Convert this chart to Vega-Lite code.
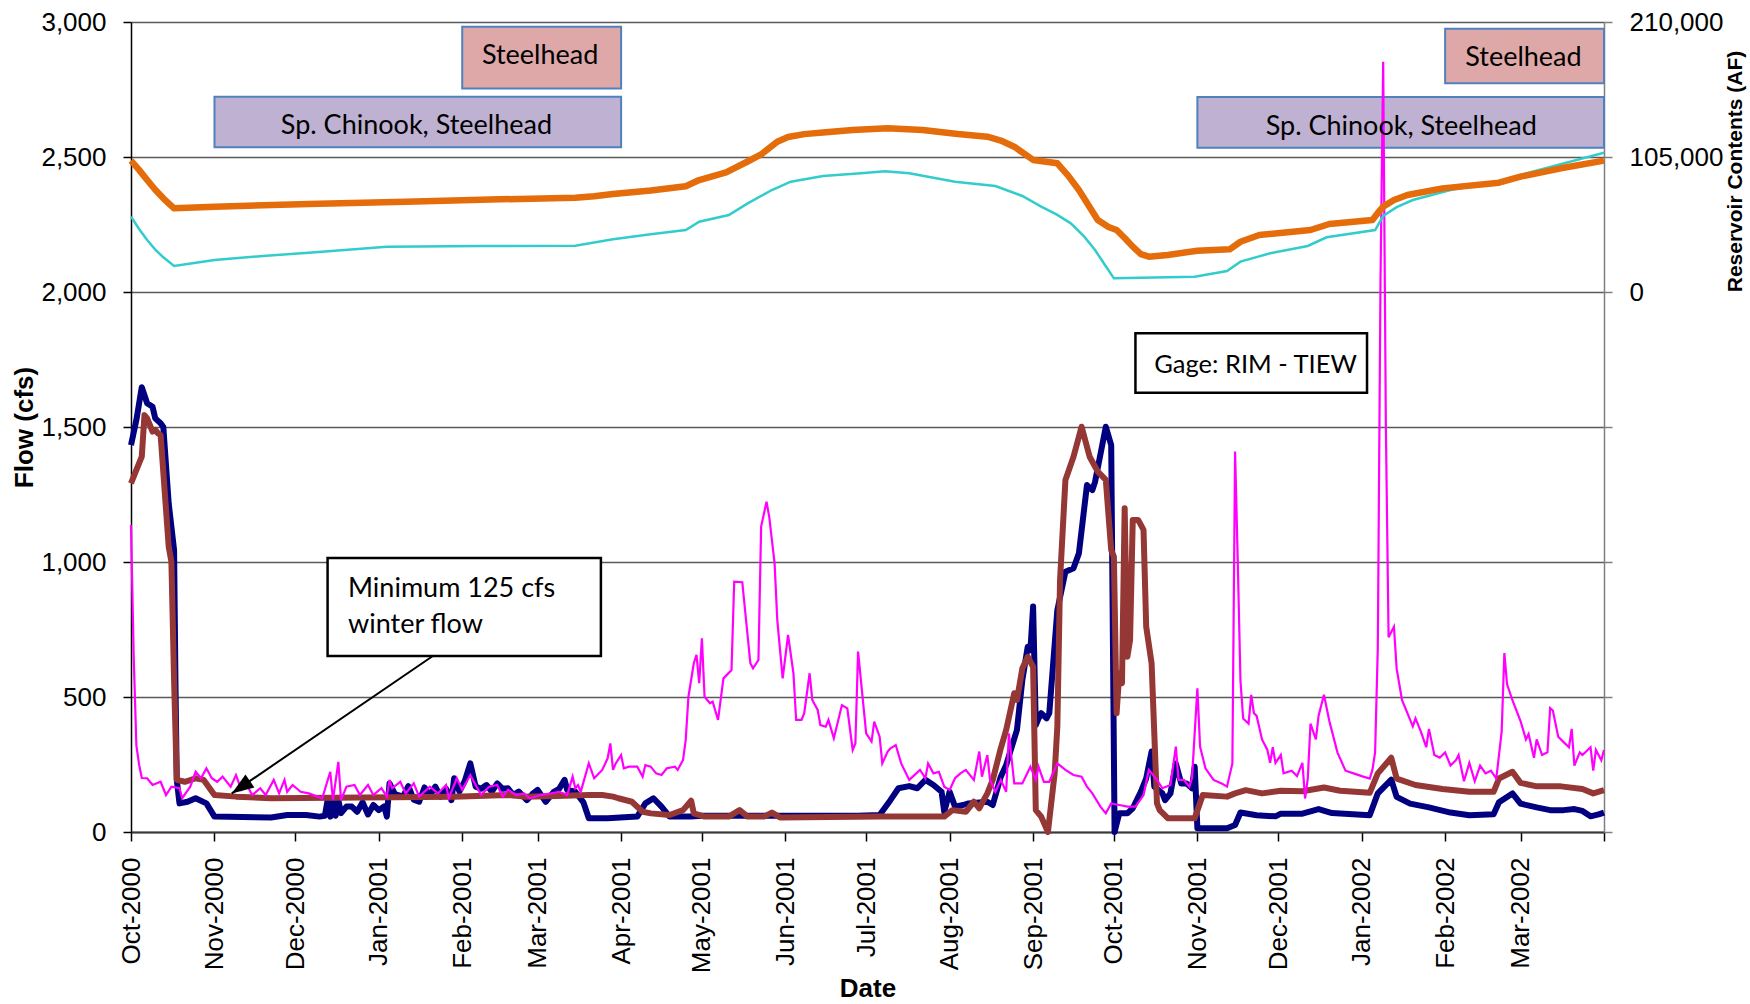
{
"$schema": "https://vega.github.io/schema/vega-lite/v6.json",
"width": 1473, "height": 810,
"autosize": {"type": "none"},
"padding": {"left": 131, "top": 22, "right": 146, "bottom": 172},
"background": "white",
"config": {
 "view": {"stroke": null},
 "axis": {"labelFont": "Liberation Sans", "titleFont": "Liberation Sans", "labelFontSize": 26, "titleFontSize": 26, "titleFontWeight": "bold", "labelColor": "#000", "titleColor": "#000", "tickColor": "#000", "domainColor": "#000", "gridColor": "#5a5a5a", "gridWidth": 1.3, "tickWidth": 1.5, "domainWidth": 1.5, "labelOverlap": false, "labelFlush": false}
},
"datasets": {
 "boxes": [
  {"kind": "Steelhead", "start": "2001-02-01", "end": "2001-04-01", "top": 2982, "bottom": 2754},
  {"kind": "Sp. Chinook, Steelhead", "start": "2000-11-01", "end": "2001-04-01", "top": 2723, "bottom": 2536},
  {"kind": "Steelhead", "start": "2002-02-01", "end": "2002-04-01", "top": 2975, "bottom": 2773},
  {"kind": "Sp. Chinook, Steelhead", "start": "2001-11-01", "end": "2002-04-01", "top": 2722, "bottom": 2534}
 ],
 "frames": [
  {"start": "2001-10-09", "end": "2002-01-03", "top": 1847, "bottom": 1627},
  {"start": "2000-12-13", "end": "2001-03-24T12:00Z", "top": 1015, "bottom": 652}
 ],
 "centerText": [
  {"text": "Steelhead", "date": "2001-03-01T22:00Z", "cfs": 2874},
  {"text": "Sp. Chinook, Steelhead", "date": "2001-01-15", "cfs": 2616},
  {"text": "Steelhead", "date": "2002-03-02T02:00Z", "cfs": 2868},
  {"text": "Sp. Chinook, Steelhead", "date": "2002-01-15T17:00Z", "cfs": 2610}
 ],
 "leftText": [
  {"text": "Gage: RIM - TIEW", "date": "2001-10-16T00:00Z", "cfs": 1728, "size": "s"},
  {"text": "Minimum 125 cfs", "date": "2000-12-20T14:00Z", "cfs": 900, "size": "m"},
  {"text": "winter flow", "date": "2000-12-20T14:00Z", "cfs": 766, "size": "m"}
 ],
 "arrow": [
  {"from": "2001-01-21T02:00Z", "fromCfs": 652, "to": "2000-11-07T10:00Z", "toCfs": 143}
 ],
 "navy": [
  {"date":"2000-10-01","cfs":1433},{"date":"2000-10-03","cfs":1526},{"date":"2000-10-05","cfs":1647},{"date":"2000-10-07","cfs":1588},{"date":"2000-10-09","cfs":1575},{"date":"2000-10-10","cfs":1532},{"date":"2000-10-12","cfs":1514},{"date":"2000-10-13","cfs":1500},{"date":"2000-10-15","cfs":1217},{"date":"2000-10-17","cfs":1044},{"date":"2000-10-17T12:00Z","cfs":563},{"date":"2000-10-18","cfs":193},{"date":"2000-10-19","cfs":106},{"date":"2000-10-22","cfs":112},{"date":"2000-10-25","cfs":125},{"date":"2000-10-29","cfs":106},{"date":"2000-11-01","cfs":57},{"date":"2000-11-22","cfs":54},{"date":"2000-11-28","cfs":63},{"date":"2000-12-05","cfs":63},{"date":"2000-12-10","cfs":57},{"date":"2000-12-12","cfs":60},{"date":"2000-12-13","cfs":118},{"date":"2000-12-14","cfs":57},{"date":"2000-12-15","cfs":110},{"date":"2000-12-16","cfs":60},{"date":"2000-12-17","cfs":118},{"date":"2000-12-18","cfs":70},{"date":"2000-12-20","cfs":94},{"date":"2000-12-22","cfs":94},{"date":"2000-12-24","cfs":75},{"date":"2000-12-26","cfs":110},{"date":"2000-12-28","cfs":65},{"date":"2000-12-30","cfs":100},
  {"date":"2001-01-01","cfs":81},{"date":"2001-01-03","cfs":95},{"date":"2001-01-04","cfs":57},{"date":"2001-01-05","cfs":180},{"date":"2001-01-07","cfs":140},{"date":"2001-01-10","cfs":131},{"date":"2001-01-12","cfs":170},{"date":"2001-01-14","cfs":120},{"date":"2001-01-16","cfs":112},{"date":"2001-01-18","cfs":165},{"date":"2001-01-20","cfs":135},{"date":"2001-01-22","cfs":168},{"date":"2001-01-24","cfs":130},{"date":"2001-01-26","cfs":160},{"date":"2001-01-28","cfs":118},{"date":"2001-01-29","cfs":199},{"date":"2001-01-31","cfs":150},{"date":"2001-02-02","cfs":190},{"date":"2001-02-04","cfs":254},{"date":"2001-02-06","cfs":168},{"date":"2001-02-08","cfs":160},{"date":"2001-02-10","cfs":174},{"date":"2001-02-12","cfs":150},{"date":"2001-02-14","cfs":180},{"date":"2001-02-16","cfs":160},{"date":"2001-02-18","cfs":162},{"date":"2001-02-20","cfs":137},{"date":"2001-02-22","cfs":150},{"date":"2001-02-25","cfs":118},{"date":"2001-02-27","cfs":140},{"date":"2001-03-01","cfs":156},{"date":"2001-03-04","cfs":112},{"date":"2001-03-07","cfs":149},{"date":"2001-03-09","cfs":160},{"date":"2001-03-11","cfs":193},{"date":"2001-03-12","cfs":156},{"date":"2001-03-15","cfs":149},{"date":"2001-03-18","cfs":110},{"date":"2001-03-20","cfs":51},{"date":"2001-03-27","cfs":51},{"date":"2001-04-07","cfs":57},{"date":"2001-04-10","cfs":106},{"date":"2001-04-13","cfs":125},{"date":"2001-04-16","cfs":94},{"date":"2001-04-19","cfs":57},{"date":"2001-04-27","cfs":57},{"date":"2001-05-01","cfs":60},{"date":"2001-06-28","cfs":60},{"date":"2001-07-06","cfs":63},{"date":"2001-07-10","cfs":118},{"date":"2001-07-13","cfs":162},{"date":"2001-07-17","cfs":170},{"date":"2001-07-20","cfs":162},{"date":"2001-07-23","cfs":193},{"date":"2001-07-26","cfs":174},{"date":"2001-07-29","cfs":149},{"date":"2001-07-30","cfs":75},{"date":"2001-08-01","cfs":149},{"date":"2001-08-03","cfs":94},{"date":"2001-08-06","cfs":100},{"date":"2001-08-08","cfs":106},{"date":"2001-08-15","cfs":112},{"date":"2001-08-17","cfs":100},{"date":"2001-08-20","cfs":205},{"date":"2001-08-22","cfs":248},{"date":"2001-08-26","cfs":378},{"date":"2001-08-28","cfs":563},{"date":"2001-08-30","cfs":686},{"date":"2001-08-31","cfs":674},{"date":"2001-09-01","cfs":835},{"date":"2001-09-02","cfs":396},{"date":"2001-09-03","cfs":420},{"date":"2001-09-04","cfs":440},{"date":"2001-09-06","cfs":421},{"date":"2001-09-07","cfs":440},{"date":"2001-09-10","cfs":822},{"date":"2001-09-13","cfs":964},{"date":"2001-09-16","cfs":977},{"date":"2001-09-18","cfs":1032},{"date":"2001-09-21","cfs":1285},{"date":"2001-09-23","cfs":1266},{"date":"2001-09-24","cfs":1297},{"date":"2001-09-28","cfs":1501},{"date":"2001-09-30","cfs":1433},{"date":"2001-10-01T06:00Z","cfs":0},{"date":"2001-10-03","cfs":69},{"date":"2001-10-06","cfs":69},{"date":"2001-10-08","cfs":88},{"date":"2001-10-11","cfs":149},{"date":"2001-10-13","cfs":199},{"date":"2001-10-15","cfs":298},{"date":"2001-10-16","cfs":168},{"date":"2001-10-19","cfs":143},{"date":"2001-10-20","cfs":118},{"date":"2001-10-22","cfs":143},{"date":"2001-10-24","cfs":254},{"date":"2001-10-26","cfs":180},{"date":"2001-10-28","cfs":180},{"date":"2001-10-30","cfs":162},{"date":"2001-10-31","cfs":242},{"date":"2001-11-01","cfs":14},{"date":"2001-11-12","cfs":14},{"date":"2001-11-15","cfs":26},{"date":"2001-11-17","cfs":72},{"date":"2001-11-23","cfs":62},{"date":"2001-11-30","cfs":58},{"date":"2001-12-02","cfs":68},{"date":"2001-12-10","cfs":68},{"date":"2001-12-16","cfs":85},{"date":"2001-12-21","cfs":70},{"date":"2002-01-04","cfs":62},{"date":"2002-01-07","cfs":143},{"date":"2002-01-12","cfs":194},{"date":"2002-01-14","cfs":130},{"date":"2002-01-19","cfs":105},{"date":"2002-01-26","cfs":91},{"date":"2002-02-03","cfs":72},{"date":"2002-02-10","cfs":62},{"date":"2002-02-19","cfs":66},{"date":"2002-02-21","cfs":110},{"date":"2002-02-26","cfs":143},{"date":"2002-03-01","cfs":105},{"date":"2002-03-07","cfs":91},{"date":"2002-03-12","cfs":81},{"date":"2002-03-17","cfs":81},{"date":"2002-03-21","cfs":85},{"date":"2002-03-24","cfs":78},{"date":"2002-03-27","cfs":58},{"date":"2002-03-30","cfs":65},{"date":"2002-04-01","cfs":72}
 ],
 "brown": [
  {"date":"2000-10-01","cfs":1291},{"date":"2000-10-03","cfs":1341},{"date":"2000-10-05","cfs":1390},{"date":"2000-10-06","cfs":1544},{"date":"2000-10-07","cfs":1532},{"date":"2000-10-09","cfs":1483},{"date":"2000-10-10","cfs":1489},{"date":"2000-10-11","cfs":1477},{"date":"2000-10-12","cfs":1470},{"date":"2000-10-15","cfs":1057},{"date":"2000-10-16","cfs":1001},{"date":"2000-10-17","cfs":563},{"date":"2000-10-18","cfs":193},{"date":"2000-10-21","cfs":186},{"date":"2000-10-25","cfs":199},{"date":"2000-10-28","cfs":193},{"date":"2000-11-01","cfs":137},{"date":"2000-11-09","cfs":131},{"date":"2000-11-22","cfs":125},{"date":"2001-01-29","cfs":131},{"date":"2001-02-18","cfs":137},{"date":"2001-02-24","cfs":131},{"date":"2001-03-08","cfs":133},{"date":"2001-03-20","cfs":137},{"date":"2001-03-25","cfs":137},{"date":"2001-03-29","cfs":131},{"date":"2001-03-31","cfs":125},{"date":"2001-04-05","cfs":112},{"date":"2001-04-09","cfs":75},{"date":"2001-04-12","cfs":69},{"date":"2001-04-19","cfs":63},{"date":"2001-04-24","cfs":81},{"date":"2001-04-27","cfs":116},{"date":"2001-04-28","cfs":69},{"date":"2001-05-02","cfs":57},{"date":"2001-05-11","cfs":57},{"date":"2001-05-15","cfs":81},{"date":"2001-05-18","cfs":57},{"date":"2001-05-24","cfs":57},{"date":"2001-05-27","cfs":72},{"date":"2001-05-30","cfs":54},{"date":"2001-07-06","cfs":57},{"date":"2001-07-30","cfs":57},{"date":"2001-08-02","cfs":81},{"date":"2001-08-07","cfs":75},{"date":"2001-08-10","cfs":112},{"date":"2001-08-12","cfs":88},{"date":"2001-08-15","cfs":143},{"date":"2001-08-17","cfs":193},{"date":"2001-08-20","cfs":310},{"date":"2001-08-22","cfs":378},{"date":"2001-08-25","cfs":514},{"date":"2001-08-26","cfs":489},{"date":"2001-08-28","cfs":606},{"date":"2001-08-30","cfs":649},{"date":"2001-09-01","cfs":612},{"date":"2001-09-02","cfs":81},{"date":"2001-09-04","cfs":57},{"date":"2001-09-06T12:00Z","cfs":0},{"date":"2001-09-09","cfs":217},{"date":"2001-09-10","cfs":390},{"date":"2001-09-11","cfs":933},{"date":"2001-09-13","cfs":1304},{"date":"2001-09-16","cfs":1390},{"date":"2001-09-19","cfs":1501},{"date":"2001-09-22","cfs":1390},{"date":"2001-09-25","cfs":1335},{"date":"2001-09-28","cfs":1304},{"date":"2001-09-30","cfs":1044},{"date":"2001-10-01","cfs":1020},{"date":"2001-10-02","cfs":440},{"date":"2001-10-03","cfs":588},{"date":"2001-10-04","cfs":551},{"date":"2001-10-05","cfs":1199},{"date":"2001-10-06","cfs":649},{"date":"2001-10-07","cfs":711},{"date":"2001-10-08","cfs":1156},{"date":"2001-10-10","cfs":1156},{"date":"2001-10-12","cfs":1119},{"date":"2001-10-13","cfs":760},{"date":"2001-10-15","cfs":625},{"date":"2001-10-17","cfs":106},{"date":"2001-10-18","cfs":81},{"date":"2001-10-21","cfs":51},{"date":"2001-10-31","cfs":51},{"date":"2001-11-03","cfs":137},{"date":"2001-11-12","cfs":131},{"date":"2001-11-15","cfs":143},{"date":"2001-11-19","cfs":155},{"date":"2001-11-25","cfs":143},{"date":"2001-12-02","cfs":153},{"date":"2001-12-10","cfs":151},{"date":"2001-12-18","cfs":165},{"date":"2001-12-24","cfs":153},{"date":"2002-01-04","cfs":145},{"date":"2002-01-07","cfs":217},{"date":"2002-01-12","cfs":275},{"date":"2002-01-14","cfs":198},{"date":"2002-01-21","cfs":174},{"date":"2002-01-31","cfs":159},{"date":"2002-02-10","cfs":149},{"date":"2002-02-19","cfs":149},{"date":"2002-02-21","cfs":198},{"date":"2002-02-26","cfs":223},{"date":"2002-03-01","cfs":182},{"date":"2002-03-07","cfs":169},{"date":"2002-03-16","cfs":169},{"date":"2002-03-24","cfs":159},{"date":"2002-03-28","cfs":143},{"date":"2002-04-01","cfs":155}
 ],
 "magenta": [
  {"date":"2000-10-01","cfs":1137},{"date":"2000-10-02","cfs":650},{"date":"2000-10-03","cfs":320},{"date":"2000-10-04","cfs":250},{"date":"2000-10-05","cfs":200},{"date":"2000-10-07","cfs":199},{"date":"2000-10-09","cfs":174},{"date":"2000-10-12","cfs":186},{"date":"2000-10-14","cfs":137},{"date":"2000-10-16","cfs":168},{"date":"2000-10-19","cfs":162},{"date":"2000-10-20","cfs":125},{"date":"2000-10-23","cfs":168},{"date":"2000-10-25","cfs":223},{"date":"2000-10-27","cfs":199},{"date":"2000-10-29","cfs":236},{"date":"2000-10-31","cfs":199},{"date":"2000-11-02","cfs":186},{"date":"2000-11-04","cfs":205},{"date":"2000-11-07","cfs":168},{"date":"2000-11-09","cfs":211},{"date":"2000-11-11","cfs":156},{"date":"2000-11-13","cfs":174},{"date":"2000-11-15","cfs":137},{"date":"2000-11-18","cfs":162},{"date":"2000-11-20","cfs":137},{"date":"2000-11-23","cfs":193},{"date":"2000-11-25","cfs":143},{"date":"2000-11-27","cfs":193},{"date":"2000-11-28","cfs":149},{"date":"2000-11-30","cfs":174},{"date":"2000-12-03","cfs":149},{"date":"2000-12-06","cfs":143},{"date":"2000-12-11","cfs":125},{"date":"2000-12-14","cfs":223},{"date":"2000-12-15","cfs":118},{"date":"2000-12-17","cfs":260},{"date":"2000-12-18","cfs":118},{"date":"2000-12-20","cfs":168},{"date":"2000-12-23","cfs":174},{"date":"2000-12-25","cfs":137},{"date":"2000-12-28","cfs":174},{"date":"2000-12-30","cfs":137},
  {"date":"2001-01-02","cfs":162},{"date":"2001-01-04","cfs":131},{"date":"2001-01-05","cfs":193},{"date":"2001-01-06","cfs":162},{"date":"2001-01-09","cfs":186},{"date":"2001-01-11","cfs":143},{"date":"2001-01-14","cfs":180},{"date":"2001-01-16","cfs":131},{"date":"2001-01-20","cfs":168},{"date":"2001-01-23","cfs":143},{"date":"2001-01-26","cfs":174},{"date":"2001-01-27","cfs":125},{"date":"2001-01-30","cfs":199},{"date":"2001-02-01","cfs":156},{"date":"2001-02-04","cfs":211},{"date":"2001-02-08","cfs":137},{"date":"2001-02-11","cfs":168},{"date":"2001-02-14","cfs":174},{"date":"2001-02-16","cfs":131},{"date":"2001-02-18","cfs":156},{"date":"2001-02-21","cfs":137},{"date":"2001-02-24","cfs":143},{"date":"2001-02-26","cfs":125},{"date":"2001-03-02","cfs":137},{"date":"2001-03-06","cfs":143},{"date":"2001-03-09","cfs":149},{"date":"2001-03-12","cfs":137},{"date":"2001-03-14","cfs":205},{"date":"2001-03-15","cfs":162},{"date":"2001-03-16","cfs":174},{"date":"2001-03-17","cfs":149},{"date":"2001-03-20","cfs":254},{"date":"2001-03-22","cfs":199},{"date":"2001-03-25","cfs":230},{"date":"2001-03-27","cfs":273},{"date":"2001-03-28","cfs":328},{"date":"2001-03-29","cfs":230},{"date":"2001-03-30","cfs":254},{"date":"2001-04-01","cfs":285},{"date":"2001-04-02","cfs":236},{"date":"2001-04-04","cfs":242},{"date":"2001-04-07","cfs":242},{"date":"2001-04-09","cfs":205},{"date":"2001-04-10","cfs":248},{"date":"2001-04-12","cfs":242},{"date":"2001-04-14","cfs":217},{"date":"2001-04-16","cfs":211},{"date":"2001-04-18","cfs":236},{"date":"2001-04-21","cfs":242},{"date":"2001-04-22","cfs":230},{"date":"2001-04-24","cfs":267},{"date":"2001-04-25","cfs":341},{"date":"2001-04-26","cfs":501},{"date":"2001-04-28","cfs":625},{"date":"2001-04-29","cfs":656},{"date":"2001-04-30","cfs":551},{"date":"2001-05-01","cfs":717},{"date":"2001-05-02","cfs":501},{"date":"2001-05-04","cfs":477},{"date":"2001-05-05","cfs":483},{"date":"2001-05-07","cfs":415},{"date":"2001-05-09","cfs":569},{"date":"2001-05-12","cfs":600},{"date":"2001-05-13","cfs":927},{"date":"2001-05-16","cfs":925},{"date":"2001-05-19","cfs":625},{"date":"2001-05-20","cfs":606},{"date":"2001-05-22","cfs":637},{"date":"2001-05-23","cfs":1131},{"date":"2001-05-25","cfs":1223},{"date":"2001-05-26","cfs":1168},{"date":"2001-05-28","cfs":995},{"date":"2001-05-29","cfs":785},{"date":"2001-05-31","cfs":569},{"date":"2001-06-02","cfs":730},{"date":"2001-06-04","cfs":588},{"date":"2001-06-05","cfs":415},{"date":"2001-06-07","cfs":415},{"date":"2001-06-08","cfs":440},{"date":"2001-06-10","cfs":588},{"date":"2001-06-11","cfs":489},{"date":"2001-06-13","cfs":452},{"date":"2001-06-14","cfs":396},{"date":"2001-06-16","cfs":390},{"date":"2001-06-17","cfs":415},{"date":"2001-06-19","cfs":347},{"date":"2001-06-22","cfs":470},{"date":"2001-06-24","cfs":458},{"date":"2001-06-26","cfs":304},{"date":"2001-06-27","cfs":328},{"date":"2001-06-28","cfs":668},{"date":"2001-07-01","cfs":365},{"date":"2001-07-03","cfs":335},{"date":"2001-07-04","cfs":409},{"date":"2001-07-06","cfs":353},{"date":"2001-07-07","cfs":254},{"date":"2001-07-09","cfs":298},{"date":"2001-07-10","cfs":310},{"date":"2001-07-12","cfs":322},{"date":"2001-07-14","cfs":254},{"date":"2001-07-17","cfs":193},{"date":"2001-07-21","cfs":230},{"date":"2001-07-23","cfs":199},{"date":"2001-07-24","cfs":254},{"date":"2001-07-26","cfs":217},{"date":"2001-07-28","cfs":223},{"date":"2001-07-30","cfs":168},{"date":"2001-08-01","cfs":156},{"date":"2001-08-03","cfs":199},{"date":"2001-08-05","cfs":217},{"date":"2001-08-07","cfs":230},{"date":"2001-08-10","cfs":193},{"date":"2001-08-12","cfs":298},{"date":"2001-08-13","cfs":205},{"date":"2001-08-15","cfs":285},{"date":"2001-08-16","cfs":193},{"date":"2001-08-18","cfs":149},{"date":"2001-08-20","cfs":193},{"date":"2001-08-22","cfs":149},{"date":"2001-08-23","cfs":365},{"date":"2001-08-25","cfs":180},{"date":"2001-08-28","cfs":180},{"date":"2001-08-31","cfs":242},{"date":"2001-09-02","cfs":193},{"date":"2001-09-03","cfs":242},{"date":"2001-09-05","cfs":186},{"date":"2001-09-07","cfs":186},{"date":"2001-09-10","cfs":254},{"date":"2001-09-13","cfs":230},{"date":"2001-09-16","cfs":211},{"date":"2001-09-19","cfs":205},{"date":"2001-09-21","cfs":168},{"date":"2001-09-23","cfs":143},{"date":"2001-09-26","cfs":94},{"date":"2001-09-28","cfs":69},{"date":"2001-09-30","cfs":106},{"date":"2001-10-03","cfs":100},{"date":"2001-10-06","cfs":94},{"date":"2001-10-09","cfs":94},{"date":"2001-10-12","cfs":137},{"date":"2001-10-14","cfs":230},{"date":"2001-10-17","cfs":193},{"date":"2001-10-19","cfs":162},{"date":"2001-10-22","cfs":174},{"date":"2001-10-24","cfs":316},{"date":"2001-10-25","cfs":193},{"date":"2001-10-27","cfs":193},{"date":"2001-10-29","cfs":168},{"date":"2001-10-30","cfs":199},{"date":"2001-11-01","cfs":532},{"date":"2001-11-02","cfs":316},{"date":"2001-11-04","cfs":236},{"date":"2001-11-07","cfs":193},{"date":"2001-11-10","cfs":180},{"date":"2001-11-12","cfs":168},{"date":"2001-11-14","cfs":254},{"date":"2001-11-15","cfs":1409},{"date":"2001-11-16","cfs":1000},{"date":"2001-11-17","cfs":560},{"date":"2001-11-18","cfs":420},{"date":"2001-11-20","cfs":401},{"date":"2001-11-21","cfs":508},{"date":"2001-11-22","cfs":440},{"date":"2001-11-23","cfs":430},{"date":"2001-11-25","cfs":343},{"date":"2001-11-27","cfs":304},{"date":"2001-11-28","cfs":256},{"date":"2001-11-29","cfs":314},{"date":"2001-11-30","cfs":256},{"date":"2001-12-02","cfs":285},{"date":"2001-12-03","cfs":217},{"date":"2001-12-06","cfs":227},{"date":"2001-12-08","cfs":207},{"date":"2001-12-10","cfs":256},{"date":"2001-12-11","cfs":124},{"date":"2001-12-12","cfs":198},{"date":"2001-12-13","cfs":401},{"date":"2001-12-15","cfs":343},{"date":"2001-12-16","cfs":430},{"date":"2001-12-18","cfs":508},{"date":"2001-12-20","cfs":411},{"date":"2001-12-23","cfs":295},{"date":"2001-12-26","cfs":227},{"date":"2001-12-29","cfs":217},{"date":"2002-01-01","cfs":207},{"date":"2002-01-04","cfs":198},{"date":"2002-01-05","cfs":230},{"date":"2002-01-06","cfs":295},{"date":"2002-01-07","cfs":682},{"date":"2002-01-08","cfs":2039},{"date":"2002-01-09","cfs":2853},{"date":"2002-01-10","cfs":1500},{"date":"2002-01-11","cfs":721},{"date":"2002-01-13","cfs":760},{"date":"2002-01-14","cfs":605},{"date":"2002-01-16","cfs":488},{"date":"2002-01-18","cfs":440},{"date":"2002-01-20","cfs":391},{"date":"2002-01-21","cfs":421},{"date":"2002-01-23","cfs":372},{"date":"2002-01-25","cfs":314},{"date":"2002-01-26","cfs":382},{"date":"2002-01-28","cfs":285},{"date":"2002-01-30","cfs":275},{"date":"2002-02-01","cfs":295},{"date":"2002-02-03","cfs":246},{"date":"2002-02-05","cfs":266},{"date":"2002-02-06","cfs":285},{"date":"2002-02-08","cfs":188},{"date":"2002-02-10","cfs":256},{"date":"2002-02-12","cfs":188},{"date":"2002-02-14","cfs":246},{"date":"2002-02-16","cfs":217},{"date":"2002-02-18","cfs":227},{"date":"2002-02-20","cfs":198},{"date":"2002-02-22","cfs":372},{"date":"2002-02-23","cfs":663},{"date":"2002-02-24","cfs":547},{"date":"2002-02-26","cfs":488},{"date":"2002-03-01","cfs":411},{"date":"2002-03-03","cfs":343},{"date":"2002-03-04","cfs":363},{"date":"2002-03-06","cfs":275},{"date":"2002-03-07","cfs":343},{"date":"2002-03-09","cfs":285},{"date":"2002-03-11","cfs":295},{"date":"2002-03-12","cfs":459},{"date":"2002-03-13","cfs":450},{"date":"2002-03-15","cfs":353},{"date":"2002-03-17","cfs":333},{"date":"2002-03-19","cfs":314},{"date":"2002-03-20","cfs":382},{"date":"2002-03-21","cfs":246},{"date":"2002-03-23","cfs":295},{"date":"2002-03-24","cfs":285},{"date":"2002-03-27","cfs":314},{"date":"2002-03-28","cfs":227},{"date":"2002-03-29","cfs":304},{"date":"2002-03-31","cfs":266},{"date":"2002-04-01","cfs":304}
 ],
 "orange": [
  {"date":"2000-10-01","af":102150},{"date":"2000-10-04","af":95000},{"date":"2000-10-07","af":87100},{"date":"2000-10-10","af":79500},{"date":"2000-10-13","af":72850},{"date":"2000-10-17","af":65070},{"date":"2000-11-01","af":66370},{"date":"2000-12-06","af":68450},{"date":"2001-01-11","af":70260},{"date":"2001-02-15","af":72070},{"date":"2001-03-15","af":73370},{"date":"2001-03-22","af":74500},{"date":"2001-03-29","af":76220},{"date":"2001-04-12","af":79000},{"date":"2001-04-25","af":82300},{"date":"2001-04-30","af":87100},{"date":"2001-05-10","af":93000},{"date":"2001-05-18","af":101500},{"date":"2001-05-23","af":107000},{"date":"2001-05-29","af":116900},{"date":"2001-06-02","af":120500},{"date":"2001-06-08","af":122800},{"date":"2001-06-16","af":124200},{"date":"2001-06-26","af":126000},{"date":"2001-07-09","af":127300},{"date":"2001-07-22","af":126000},{"date":"2001-08-04","af":122900},{"date":"2001-08-15","af":120800},{"date":"2001-08-20","af":117800},{"date":"2001-08-25","af":113000},{"date":"2001-09-01","af":102700},{"date":"2001-09-10","af":100100},{"date":"2001-09-14","af":90500},{"date":"2001-09-18","af":79300},{"date":"2001-09-25","af":56000},{"date":"2001-09-29","af":50500},{"date":"2001-10-02","af":48200},{"date":"2001-10-05","af":42000},{"date":"2001-10-08","af":35300},{"date":"2001-10-11","af":29500},{"date":"2001-10-14","af":27500},{"date":"2001-10-21","af":28800},{"date":"2001-11-01","af":32150},{"date":"2001-11-13","af":33200},{"date":"2001-11-17","af":39100},{"date":"2001-11-24","af":44300},{"date":"2001-12-13","af":48200},{"date":"2001-12-20","af":52900},{"date":"2002-01-05","af":56000},{"date":"2002-01-07","af":61500},{"date":"2002-01-09","af":66400},{"date":"2002-01-13","af":71500},{"date":"2002-01-18","af":75450},{"date":"2002-01-31","af":80600},{"date":"2002-02-21","af":85000},{"date":"2002-03-01","af":89700},{"date":"2002-03-16","af":96200},{"date":"2002-04-01","af":102150}
 ],
 "cyan": [
  {"date":"2000-10-01","af":58600},{"date":"2000-10-04","af":49000},{"date":"2000-10-07","af":40440},{"date":"2000-10-10","af":33000},{"date":"2000-10-13","af":26960},{"date":"2000-10-17","af":20220},{"date":"2000-11-01","af":24890},{"date":"2000-11-19","af":28000},{"date":"2000-12-06","af":30590},{"date":"2001-01-04","af":35260},{"date":"2001-02-08","af":35780},{"date":"2001-03-15","af":36040},{"date":"2001-03-29","af":40960},{"date":"2001-04-12","af":44850},{"date":"2001-04-25","af":48220},{"date":"2001-04-30","af":54700},{"date":"2001-05-11","af":59890},{"date":"2001-05-18","af":68960},{"date":"2001-05-27","af":79330},{"date":"2001-06-03","af":85820},{"date":"2001-06-15","af":90220},{"date":"2001-06-29","af":92300},{"date":"2001-07-08","af":93850},{"date":"2001-07-17","af":92300},{"date":"2001-08-03","af":85820},{"date":"2001-08-18","af":82440},{"date":"2001-08-28","af":74670},{"date":"2001-09-04","af":66370},{"date":"2001-09-10","af":60000},{"date":"2001-09-15","af":53400},{"date":"2001-09-20","af":43000},{"date":"2001-09-24","af":32670},{"date":"2001-09-28","af":20000},{"date":"2001-10-01","af":10630},{"date":"2001-10-31","af":11930},{"date":"2001-11-12","af":16330},{"date":"2001-11-17","af":23590},{"date":"2001-11-28","af":30070},{"date":"2001-12-12","af":35780},{"date":"2001-12-19","af":42520},{"date":"2002-01-06","af":48220},{"date":"2002-01-09","af":59110},{"date":"2002-01-14","af":66000},{"date":"2002-01-20","af":71560},{"date":"2002-02-03","af":79330},{"date":"2002-02-21","af":85820},{"date":"2002-03-03","af":92300},{"date":"2002-04-01","af":108370}
 ]
},
"layer": [
 {"layer": [
  {"data": {"name": "boxes"},
   "mark": {"type": "rect", "stroke": "#4F81BD", "strokeWidth": 2},
   "encoding": {
    "x": {"field": "start", "type": "temporal", "title": "Date",
      "scale": {"type": "utc", "nice": false, "domain": [{"year": 2000, "month": 10, "date": 1, "utc": true}, {"year": 2002, "month": 4, "date": 1, "utc": true}]},
      "axis": {"tickCount": {"interval": "month", "step": 1}, "labelExpr": "utcFormat(datum.value, '%b-%Y') == 'Apr-2002' ? '' : utcFormat(datum.value, '%b-%Y')", "labelAngle": 270, "tickSize": 9, "labelPadding": 16, "titlePadding": 3, "domainWidth": 2, "domainColor": "#3a3a3a", "grid": false}},
    "x2": {"field": "end"},
    "y": {"field": "top", "type": "quantitative", "title": "Flow (cfs)",
      "scale": {"domain": [0, 3000], "nice": false},
      "axis": {"orient": "left", "values": [0, 500, 1000, 1500, 2000, 2500, 3000], "labelExpr": "format(datum.value, ',')", "grid": true, "tickSize": 8, "labelPadding": 17, "titlePadding": 3}},
    "y2": {"field": "bottom"},
    "fill": {"field": "kind", "type": "nominal", "legend": null, "scale": {"domain": ["Steelhead", "Sp. Chinook, Steelhead"], "range": ["#DFA8A8", "#BFB1D1"]}}
   }},
  {"data": {"name": "frames"},
   "mark": {"type": "rect", "fill": "white", "stroke": "black", "strokeWidth": 2.5},
   "encoding": {
    "x": {"field": "start", "type": "temporal", "title": "Date", "scale": {"type": "utc", "nice": false, "domain": [{"year": 2000, "month": 10, "date": 1, "utc": true}, {"year": 2002, "month": 4, "date": 1, "utc": true}]}},
    "x2": {"field": "end"},
    "y": {"field": "top", "type": "quantitative", "title": "Flow (cfs)", "scale": {"domain": [0, 3000], "nice": false}},
    "y2": {"field": "bottom"}
   }},
  {"data": {"name": "navy"},
   "mark": {"type": "line", "color": "#000080", "strokeWidth": 6, "strokeJoin": "round"},
   "encoding": {
    "x": {"field": "date", "type": "temporal", "title": "Date", "scale": {"type": "utc", "nice": false, "domain": [{"year": 2000, "month": 10, "date": 1, "utc": true}, {"year": 2002, "month": 4, "date": 1, "utc": true}]}},
    "y": {"field": "cfs", "type": "quantitative", "title": "Flow (cfs)", "scale": {"domain": [0, 3000], "nice": false}}
   }},
  {"data": {"name": "brown"},
   "mark": {"type": "line", "color": "#953735", "strokeWidth": 6, "strokeJoin": "round"},
   "encoding": {
    "x": {"field": "date", "type": "temporal", "title": "Date", "scale": {"type": "utc", "nice": false, "domain": [{"year": 2000, "month": 10, "date": 1, "utc": true}, {"year": 2002, "month": 4, "date": 1, "utc": true}]}},
    "y": {"field": "cfs", "type": "quantitative", "title": "Flow (cfs)", "scale": {"domain": [0, 3000], "nice": false}}
   }},
  {"data": {"name": "magenta"},
   "mark": {"type": "line", "color": "#FF00FF", "strokeWidth": 2.2},
   "encoding": {
    "x": {"field": "date", "type": "temporal", "title": "Date", "scale": {"type": "utc", "nice": false, "domain": [{"year": 2000, "month": 10, "date": 1, "utc": true}, {"year": 2002, "month": 4, "date": 1, "utc": true}]}},
    "y": {"field": "cfs", "type": "quantitative", "title": "Flow (cfs)", "scale": {"domain": [0, 3000], "nice": false}}
   }},
  {"data": {"name": "arrow"},
   "mark": {"type": "rule", "color": "black", "strokeWidth": 2},
   "encoding": {
    "x": {"field": "from", "type": "temporal", "title": "Date", "scale": {"type": "utc", "nice": false, "domain": [{"year": 2000, "month": 10, "date": 1, "utc": true}, {"year": 2002, "month": 4, "date": 1, "utc": true}]}},
    "x2": {"field": "to"},
    "y": {"field": "fromCfs", "type": "quantitative", "title": "Flow (cfs)", "scale": {"domain": [0, 3000], "nice": false}},
    "y2": {"field": "toCfs"}
   }},
  {"data": {"name": "arrow"},
   "mark": {"type": "point", "shape": "M0,0L-0.36,1L0.36,1Z", "filled": true, "color": "black", "opacity": 1, "size": 1936, "angle": 235.7, "strokeWidth": 0},
   "encoding": {
    "x": {"field": "to", "type": "temporal", "title": "Date", "scale": {"type": "utc", "nice": false, "domain": [{"year": 2000, "month": 10, "date": 1, "utc": true}, {"year": 2002, "month": 4, "date": 1, "utc": true}]}},
    "y": {"field": "toCfs", "type": "quantitative", "title": "Flow (cfs)", "scale": {"domain": [0, 3000], "nice": false}}
   }},
  {"data": {"name": "centerText"},
   "mark": {"type": "text", "font": "Lato", "fontSize": 27, "align": "center", "baseline": "middle", "color": "black"},
   "encoding": {
    "x": {"field": "date", "type": "temporal", "title": "Date", "scale": {"type": "utc", "nice": false, "domain": [{"year": 2000, "month": 10, "date": 1, "utc": true}, {"year": 2002, "month": 4, "date": 1, "utc": true}]}},
    "y": {"field": "cfs", "type": "quantitative", "title": "Flow (cfs)", "scale": {"domain": [0, 3000], "nice": false}},
    "text": {"field": "text"}
   }},
  {"data": {"name": "leftText"},
   "mark": {"type": "text", "font": "Lato", "align": "left", "baseline": "middle", "color": "black"},
   "encoding": {
    "x": {"field": "date", "type": "temporal", "title": "Date", "scale": {"type": "utc", "nice": false, "domain": [{"year": 2000, "month": 10, "date": 1, "utc": true}, {"year": 2002, "month": 4, "date": 1, "utc": true}]}},
    "y": {"field": "cfs", "type": "quantitative", "title": "Flow (cfs)", "scale": {"domain": [0, 3000], "nice": false}},
    "size": {"field": "size", "type": "nominal", "legend": null, "scale": {"domain": ["s", "m"], "range": [25.5, 27]}},
    "text": {"field": "text"}
   }}
 ]},
 {"layer": [
  {"data": {"name": "cyan"},
   "mark": {"type": "line", "color": "#33CCCC", "strokeWidth": 2.5},
   "encoding": {
    "x": {"field": "date", "type": "temporal", "title": "Date", "scale": {"type": "utc", "nice": false, "domain": [{"year": 2000, "month": 10, "date": 1, "utc": true}, {"year": 2002, "month": 4, "date": 1, "utc": true}]}},
    "y": {"field": "af", "type": "quantitative", "title": "Reservoir Contents (AF)",
      "scale": {"domain": [-420000, 210000], "nice": false, "zero": false},
      "axis": {"orient": "right", "values": [-420000, -315000, -210000, -105000, 0, 105000, 210000], "labelExpr": "datum.value < 0 ? '' : format(datum.value, ',')", "grid": false, "tickSize": 8, "labelPadding": 17, "domainColor": "#7f7f7f", "tickColor": "#7f7f7f", "titleFontSize": 21, "titleAngle": 270, "titleBaseline": "top", "titleY": 149, "titlePadding": 2}}
   }},
  {"data": {"name": "orange"},
   "mark": {"type": "line", "color": "#E46C0A", "strokeWidth": 6.5, "strokeJoin": "round"},
   "encoding": {
    "x": {"field": "date", "type": "temporal", "title": "Date", "scale": {"type": "utc", "nice": false, "domain": [{"year": 2000, "month": 10, "date": 1, "utc": true}, {"year": 2002, "month": 4, "date": 1, "utc": true}]}},
    "y": {"field": "af", "type": "quantitative", "title": "Reservoir Contents (AF)", "scale": {"domain": [-420000, 210000], "nice": false, "zero": false}}
   }}
 ]}
],
"resolve": {"scale": {"y": "independent"}}
}
